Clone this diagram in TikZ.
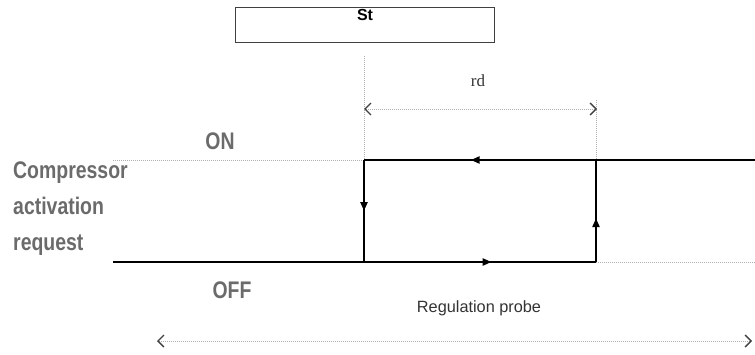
\documentclass[tikz,border=0pt]{standalone}
\usepackage{fontspec}
\setmainfont{Liberation Sans}
\newfontfamily\condfont[FakeStretch=0.81]{Liberation Sans}
\newfontfamily\serfont{Liberation Serif}
\usetikzlibrary{arrows.meta,decorations.markings}
\definecolor{labgray}{HTML}{6B6B6B}
\definecolor{dotgray}{HTML}{B0B0B0}
\tikzset{
  curve/.style={line width=2.4pt,black},
  midarrow/.style={postaction={decorate,decoration={markings,
     mark=at position #1 with {\arrow{Triangle[length=9pt,width=7pt]}}}}},
  guide/.style={dash pattern=on 0.8pt off 1.2pt,dotgray,line width=0.8pt},
  barbtip/.tip={Straight Barb[length=6pt,width=12pt,line width=1.4pt,color=black!75]},
  dimline/.style={guide,{barbtip}-{barbtip}},
  biglabel/.style={font=\condfont\bfseries\fontsize{24}{36}\selectfont,text=labgray,inner sep=0pt},
}
\begin{document}
\begin{tikzpicture}[x=1pt,y=-1pt]
\useasboundingbox (0,0) rectangle (755,354);
% setpoint box
\node[draw=black!75,line width=1.2pt,minimum width=259pt,minimum height=35pt,inner sep=0pt,anchor=north west] (st) at (235,7) {};
\node[font=\bfseries\fontsize{16}{18}\selectfont,inner sep=0pt] (sttext) at (365,15) {St};
% corner coordinates
\coordinate (offL) at (113,262);
\coordinate (bl) at (364,262);
\coordinate (br) at (596,262);
\coordinate (tr) at (596,160);
\coordinate (tl) at (364,160);
\coordinate (onR) at (755,160);
\coordinate (onL) at (113,160);
\coordinate (offR) at (755,262);
\coordinate (vtop) at (364,56);
\coordinate (rtop) at (596,100);
\coordinate (rdL) at (364,109);
\coordinate (rdR) at (597,109);
\coordinate (prL) at (157,341);
\coordinate (prR) at (752,341);
% guides
\draw[guide] (vtop) -- (tl);
\draw[guide] (rtop) -- (tr);
\draw[guide] (onL) -- (tl);
\draw[guide] (br) -- (offR);
\draw[dimline] (rdL) -- (rdR);
\draw[dimline] (prL) -- (prR);
% hysteresis
\draw[curve] (offL) -- (bl);
\draw[curve,midarrow=0.55] (bl) -- (br);
\draw[curve,midarrow=0.43] (br) -- (tr);
\draw[curve,midarrow=0.54] (tr) -- (tl);
\draw[curve,midarrow=0.5] (tl) -- (bl);
\draw[curve] (tr) -- (onR);
% labels
\node[font=\serfont\fontsize{17}{19}\selectfont,text=black!80,inner sep=0pt] (rd) at (478,81) {rd};
\node[biglabel] (on) at (220,141) {ON};
\node[biglabel] (off) at (232,290) {OFF};
\node[biglabel,anchor=north west,align=left] (req) at (13,162) {Compressor\\activation\\request};
\node[font=\fontsize{16.3}{18}\selectfont,text=black!80,inner sep=0pt] (probe) at (479,308) {Regulation probe};
\end{tikzpicture}
\end{document}
